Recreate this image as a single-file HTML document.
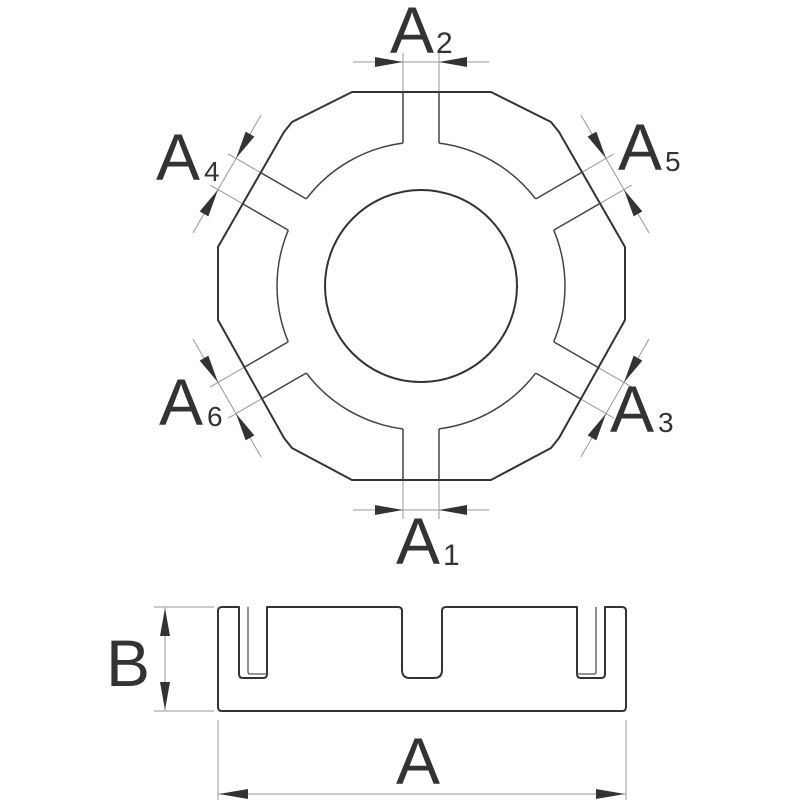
<!DOCTYPE html>
<html><head><meta charset="utf-8"><style>
html,body{margin:0;padding:0;background:#fff}
svg{display:block}
text{font-family:"Liberation Sans",sans-serif;fill:#333}
</style></head><body>
<svg width="800" height="800" viewBox="0 0 800 800" xmlns="http://www.w3.org/2000/svg">
<defs>
<clipPath id="poly"><polygon points="352,92 292,122 284,132 218,247 218,320 284,438 292,448 352,480 491,480 551,448 559,438 625,320 625,247 559,132 551,122 491,92"/></clipPath>
<g id="slot">
  <line x1="143" y1="18" x2="260" y2="18"/>
  <line x1="143" y1="-18" x2="260" y2="-18"/>
  <path d="M142.87 18 A144 144 0 0 1 87 114.7" fill="none"/>
</g>
<g id="dim">
  <line x1="188" y1="18" x2="233" y2="18" stroke="#999" stroke-width="1"/>
  <line x1="188" y1="-18" x2="233" y2="-18" stroke="#999" stroke-width="1"/>
  <line x1="224" y1="-68" x2="224" y2="68" stroke="#999" stroke-width="1"/>
  <polygon points="224,-18 219,-46 229,-46" fill="#333"/>
  <polygon points="224,18 219,46 229,46" fill="#333"/>
</g>
</defs>

<g transform="translate(421,286)">
  <use href="#dim" transform="rotate(-90)"/>
  <use href="#dim" transform="rotate(90)"/>
  <use href="#dim" transform="rotate(-150)"/>
  <use href="#dim" transform="rotate(-30)"/>
  <use href="#dim" transform="rotate(30)"/>
  <use href="#dim" transform="rotate(150)"/>
</g>

<polygon points="352,92 292,122 284,132 218,247 218,320 284,438 292,448 352,480 491,480 551,448 559,438 625,320 625,247 559,132 551,122 491,92" fill="none" stroke="#333" stroke-width="2" stroke-linejoin="round"/>

<g clip-path="url(#poly)">
<g transform="translate(421,286)" stroke="#444" stroke-width="1.5" fill="none">
  <use href="#slot" transform="rotate(-90)"/>
  <use href="#slot" transform="rotate(-30)"/>
  <use href="#slot" transform="rotate(30)"/>
  <use href="#slot" transform="rotate(90)"/>
  <use href="#slot" transform="rotate(150)"/>
  <use href="#slot" transform="rotate(210)"/>
</g>
</g>

<circle cx="421" cy="286" r="96" fill="none" stroke="#333" stroke-width="2"/>

<text x="390" y="53" font-size="66">A</text><text x="436" y="53" font-size="30">2</text>
<text x="156" y="180" font-size="66">A</text><text x="204" y="181" font-size="28">4</text>
<text x="618" y="170" font-size="66">A</text><text x="665" y="171" font-size="28">5</text>
<text x="159" y="425" font-size="66">A</text><text x="207" y="426" font-size="28">6</text>
<text x="610" y="432" font-size="66">A</text><text x="658" y="432" font-size="28">3</text>
<text x="396" y="564" font-size="66">A</text><text x="443" y="565" font-size="30">1</text>

<path d="M222 607 L239 607 L239 674 Q239 678 243 678 L263 678 Q267 678 267 674 L267 607 L398 607 Q402 607 402 611 L402 670 Q402 678 410 678 L434 678 Q442 678 442 670 L442 611 Q442 607 446 607 L577 607 L577 674 Q577 678 581 678 L601 678 Q605 678 605 674 L605 607 L622 607 Q626 607 626 611 L626 707 Q626 711 622 711 L222 711 Q218 711 218 707 L218 611 Q218 607 222 607 Z" fill="none" stroke="#333" stroke-width="2" stroke-linejoin="round"/>
<path d="M248 607 L248 672 Q248 674 250 674 L267 674" fill="none" stroke="#555" stroke-width="1.3"/>
<path d="M596 607 L596 672 Q596 674 594 674 L577 674" fill="none" stroke="#555" stroke-width="1.3"/>

<line x1="154" y1="607" x2="214" y2="607" stroke="#999"/>
<line x1="154" y1="711" x2="214" y2="711" stroke="#999"/>
<line x1="165" y1="607" x2="165" y2="711" stroke="#999"/>
<polygon points="165,608 160,636 170,636" fill="#333"/>
<polygon points="165,710 160,682 170,682" fill="#333"/>
<text x="106" y="686" font-size="66">B</text>

<line x1="218" y1="720" x2="218" y2="800" stroke="#999"/>
<line x1="626" y1="720" x2="626" y2="800" stroke="#999"/>
<line x1="218" y1="794" x2="626" y2="794" stroke="#999"/>
<polygon points="219,794 248,789 248,799" fill="#333"/>
<polygon points="625,794 596,789 596,799" fill="#333"/>
<text x="396" y="784" font-size="66">A</text>
</svg>
</body></html>
